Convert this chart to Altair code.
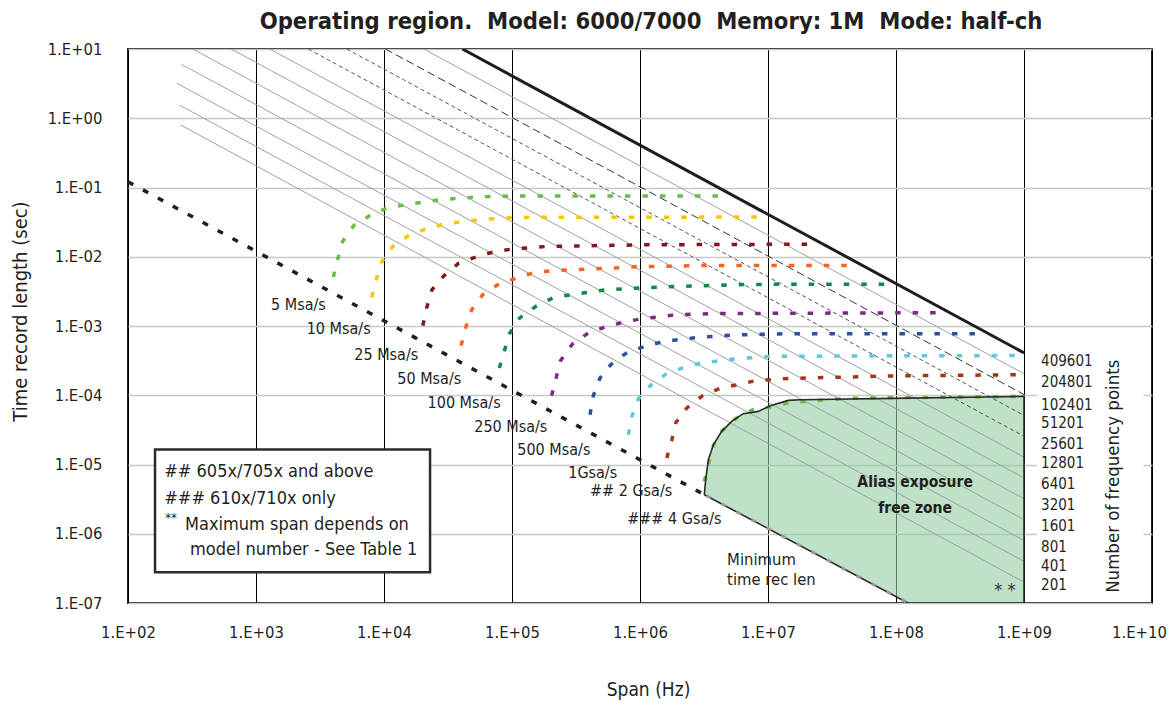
import altair as alt
import pandas as pd

FONT = "'DejaVu Sans Condensed', 'Liberation Sans Narrow', 'DejaVu Sans', sans-serif"
INK = "#231f20"

# ---------------- axis ticks ----------------
x_ticks = [1e2, 1e3, 1e4, 1e5, 1e6, 1e7, 1e8, 1e9, 1e10]
y_ticks = [1e-7, 1e-6, 1e-5, 1e-4, 1e-3, 1e-2, 1e-1, 1e0, 1e1]

# ---------------- constant frequency-point lines ----------------
fp_labels = ["201", "401", "801", "1601", "3201", "6401", "12801", "25601",
             "51201", "102401", "204801", "409601"]
fp_start_span = [258, 252, 240, 262, 320, 640, 1280, 2560, 5120, 10240, 20480, 40960]
fp_start_t = [0.80, 1.55, 3.2, 6.0, 10, 10, 10, 10, 10, 10, 10, 10]
fp_end_span = [1e9, 1e9, 1e9, 1e9, 1e9, 1e9, 1e9, 1e9, 1e9, 1e9, 1e9, 1e9]
fp_end_t = [2.0e-7, 4.0e-7, 8.0e-7, 1.6e-6, 3.2e-6, 6.4e-6, 1.28e-5, 2.56e-5,
            5.12e-5, 1.024e-4, 2.048e-4, 4.096e-4]
fp_style = ["thin", "thin", "thin", "thin", "thin", "thin", "thin", "short",
            "short", "long", "thin", "bold"]

# label positions of the frequency-point list (right side)
fp_label_t = [1.84e-7, 3.46e-7, 6.44e-7, 1.28e-6, 2.63e-6, 5.23e-6, 1.05e-5,
              2.00e-5, 3.97e-5, 7.31e-5, 1.55e-4, 3.15e-4]
fp_label_span = 1.36e9

# ---------------- sample-rate curves ----------------
rate_names = ["5 Msa/s", "10 Msa/s", "25 Msa/s", "50 Msa/s", "100 Msa/s",
              "250 Msa/s", "500 Msa/s", "1Gsa/s", "## 2 Gsa/s", "### 4 Gsa/s"]
rate_colors = ["#6dbb45", "#f7c600", "#84171a", "#f26522", "#0f8a43",
               "#7c2b83", "#2f4f9f", "#5fc9d9", "#a33520", "#6dbb45"]

r5m_span = [4.02e3, 4.35e3, 4.76e3, 5.83e3, 7.78e3, 1.06e4, 1.49e4, 2.77e4, 5.30e4, 9.88e4, 5.0e6]
r5m_t = [5.10e-3, 9.29e-3, 1.67e-2, 2.84e-2, 3.95e-2, 5.06e-2, 5.65e-2, 6.67e-2, 7.29e-2, 7.53e-2, 7.53e-2]

r10m_span = [8.02e3, 8.66e3, 9.48e3, 1.17e4, 1.55e4, 2.13e4, 2.94e4, 5.56e4, 1.05e5, 1.0e7]
r10m_t = [2.59e-3, 4.56e-3, 8.13e-3, 1.41e-2, 2.01e-2, 2.52e-2, 2.97e-2, 3.43e-2, 3.70e-2, 3.75e-2]

r25m_span = [2.01e4, 2.16e4, 2.37e4, 2.94e4, 3.85e4, 5.30e4, 7.23e4, 9.95e4, 1.89e5, 1.20e6, 2.5e7]
r25m_t = [1.01e-3, 1.86e-3, 3.34e-3, 5.32e-3, 8.13e-3, 1.00e-2, 1.18e-2, 1.29e-2, 1.41e-2, 1.49e-2, 1.52e-2]

r50m_span = [4.00e4, 4.35e4, 4.84e4, 5.90e4, 7.96e4, 1.09e5, 1.51e5, 2.04e5, 1.0e6, 3.70e6, 5.0e7]
r50m_t = [5.20e-4, 9.55e-4, 1.72e-3, 2.83e-3, 4.08e-3, 4.93e-3, 5.94e-3, 6.29e-3, 7.18e-3, 7.50e-3, 7.50e-3]

r100m_span = [7.96e4, 8.66e4, 9.53e4, 1.15e5, 1.56e5, 2.13e5, 2.93e5, 5.49e5, 1.06e6, 1.99e6, 7.23e6, 1.0e8]
r100m_t = [2.48e-4, 4.21e-4, 7.66e-4, 1.31e-3, 1.96e-3, 2.59e-3, 2.83e-3, 3.34e-3, 3.57e-3, 3.73e-3, 3.99e-3, 4.0e-3]

r250m_span = [2.04e5, 2.21e5, 2.40e5, 2.98e5, 3.94e5, 5.49e5, 7.50e5, 1.03e6, 1.94e6, 3.70e6, 2.5e8]
r250m_t = [9.86e-5, 1.77e-4, 3.18e-4, 5.55e-4, 7.92e-4, 9.86e-4, 1.14e-3, 1.27e-3, 1.46e-3, 1.51e-3, 1.56e-3]

r500m_span = [4.07e5, 4.32e5, 4.87e5, 5.90e5, 7.96e5, 1.09e6, 1.50e6, 2.80e6, 5.36e6, 1.40e7, 5.0e8]
r500m_t = [5.24e-5, 9.86e-5, 1.77e-4, 2.76e-4, 4.16e-4, 5.07e-4, 5.93e-4, 6.84e-4, 7.41e-4, 7.74e-4, 7.74e-4]

r1g_span = [8.11e5, 8.61e5, 9.70e5, 1.20e6, 1.60e6, 2.16e6, 2.98e6, 5.69e6, 1.07e7, 1.07e8, 1.0e9]
r1g_t = [2.69e-5, 4.85e-5, 8.83e-5, 1.37e-4, 2.03e-4, 2.48e-4, 2.92e-4, 3.37e-4, 3.64e-4, 3.72e-4, 3.74e-4]

r2g_span = [1.62e6, 1.77e6, 1.91e6, 2.32e6, 3.09e6, 4.27e6, 5.86e6, 7.91e6, 1.47e7, 1.07e8, 1.0e9]
r2g_t = [1.24e-5, 2.23e-5, 4.06e-5, 6.55e-5, 9.86e-5, 1.27e-4, 1.42e-4, 1.62e-4, 1.75e-4, 1.91e-4, 1.98e-4]

r4g_span = [3.18e6, 3.42e6, 3.74e6, 4.35e6, 5.20e6, 6.41e6, 7.67e6, 1.10e7, 1.49e7, 4.37e7, 1.0e9]
r4g_t = [5.70e-6, 9.93e-6, 1.87e-5, 3.01e-5, 4.19e-5, 5.42e-5, 6.18e-5, 6.90e-5, 7.88e-5, 9.05e-5, 9.62e-5]

rate_spans = [r5m_span, r10m_span, r25m_span, r50m_span, r100m_span,
              r250m_span, r500m_span, r1g_span, r2g_span, r4g_span]
rate_ts = [r5m_t, r10m_t, r25m_t, r50m_t, r100m_t,
           r250m_t, r500m_t, r1g_t, r2g_t, r4g_t]

rate_label_span = [1.31e3, 2.49e3, 5.86e3, 1.27e4, 2.19e4, 5.07e4, 1.10e5, 2.75e5, 4.07e5, 7.95e5]
rate_label_t = [1.98e-3, 9.05e-4, 3.85e-4, 1.73e-4, 7.73e-5, 3.48e-5, 1.60e-5, 7.54e-6, 4.09e-6, 1.65e-6]

# ---------------- minimum time record length ----------------
min_span = [100, 3.15e6]
min_t = [0.121, 3.7e-6]
min_zone_span = [3.3e6, 1.24e8]
min_zone_t = [3.55e-6, 1.0e-7]

# ---------------- alias exposure free zone ----------------
zone_span = [3.18e6, 3.26e6, 3.42e6, 3.74e6, 4.35e6, 5.20e6, 6.41e6, 8.40e6,
             1.04e7, 1.44e7, 1.78e7, 1.24e8, 1.0e9]
zone_top = [3.66e-6, 6.04e-6, 1.17e-5, 1.93e-5, 3.01e-5, 4.19e-5, 5.42e-5, 5.85e-5,
            7.06e-5, 8.43e-5, 8.63e-5, 9.10e-5, 9.62e-5]
zone_bottom = [3.66e-6, 3.58e-6, 3.42e-6, 3.12e-6, 2.69e-6, 2.25e-6, 1.83e-6, 1.40e-6,
               1.13e-6, 8.2e-7, 6.7e-7, 1.0e-7, 1.0e-7]

# ---------------- annotations ----------------
title_text = "Operating region.\u00a0 Model: 6000/7000\u00a0 Memory: 1M\u00a0 Mode: half-ch"
title_pos = {"span": 1.22e6, "t": 24.6}

legend_box = {"span": 162.6, "span2": 2.29e4, "t": 1.64e-5, "t2": 2.77e-7}
legend_lines = ["## 605x/705x and above", "### 610x/710x only",
                "Maximum span depends on", "model number - See Table 1"]
legend_span = [192, 192, 279, 305]
legend_t = [7.69e-6, 3.21e-6, 1.32e-6, 5.75e-7]

# ================= build tables =================
lab = ("'1.E' + (round(log(datum.value)/LN10) < 0 ? '-' : '+') + "
       "(abs(round(log(datum.value)/LN10)) < 10 ? '0' : '') + abs(round(log(datum.value)/LN10))")

xscale = alt.Scale(type="log", domain=[1e2, 1e10], nice=False)
yscale = alt.Scale(type="log", domain=[1e-7, 1e1], nice=False)
xaxis = alt.Axis(values=x_ticks, labelExpr=lab, labelFont=FONT, labelFontSize=16.5,
                 labelColor=INK, labelPadding=21, ticks=False, domain=False,
                 grid=True, gridColor="#000000", gridWidth=1, labelFlush=False,
                 labelOverlap=False, title="Span (Hz)", titleFont=FONT,
                 titleFontSize=19, titleFontWeight="normal", titleColor=INK,
                 titlePadding=40, titleX=520,
                 labelOffset={"condition": {"test": "datum.value > 5e9", "value": -13},
                              "value": 0})
yaxis = alt.Axis(values=y_ticks, labelExpr=lab, labelFont=FONT, labelFontSize=16.5,
                 labelColor=INK, labelPadding=26, ticks=False, domain=False,
                 grid=True, gridColor="#c8c8c8", gridWidth=1.5, labelFlush=False,
                 labelOverlap=False, title="Time record length (sec)", titleFont=FONT,
                 titleFontSize=20, titleFontWeight="normal", titleColor=INK,
                 titlePadding=17, titleY=262)


def X(f="span"):
    return alt.X(f, type="quantitative", scale=xscale, axis=xaxis)


def Y(f="t"):
    return alt.Y(f, type="quantitative", scale=yscale, axis=yaxis)


fp_rows = []
for lab_, s0, t0, s1, t1, st in zip(fp_labels, fp_start_span, fp_start_t,
                                    fp_end_span, fp_end_t, fp_style):
    fp_rows.append({"id": lab_, "span": s0, "t": t0, "idx": 0, "style": st})
    fp_rows.append({"id": lab_, "span": s1, "t": t1, "idx": 1, "style": st})
fp_df = pd.DataFrame(fp_rows)

rate_rows = []
for name, ss, tt in zip(rate_names, rate_spans, rate_ts):
    for i, (s, t) in enumerate(zip(ss, tt)):
        rate_rows.append({"rate": name, "span": s, "t": t, "idx": i})
rate_df = pd.DataFrame(rate_rows)

zone_df = pd.DataFrame({"span": zone_span, "t": zone_top, "t2": zone_bottom})
outline_df = pd.DataFrame({
    "span": zone_span + [1.0e9, 1.24e8, zone_span[0]],
    "t": zone_top + [1.0e-7, 1.0e-7, zone_top[0]],
})
outline_df["idx"] = range(len(outline_df))

min_df = pd.DataFrame({"span": min_span, "t": min_t})
min_zone_df = pd.DataFrame({"span": min_zone_span, "t": min_zone_t})

rate_lab_df = pd.DataFrame({"label": rate_names, "span": rate_label_span, "t": rate_label_t})
fp_lab_df = pd.DataFrame({"label": fp_labels, "t": fp_label_t})
fp_lab_df["span"] = fp_label_span
legend_df = pd.DataFrame({"label": legend_lines, "span": legend_span, "t": legend_t})
box_df = pd.DataFrame([legend_box])
white_df = pd.DataFrame([{"span": 1.26e9, "span2": 8.6e9, "t": 5.0e-4, "t2": 1.1e-7}])
title_df = pd.DataFrame([{"label": title_text, **title_pos}])

# ================= layers =================
zone_fill = alt.Chart(zone_df).mark_area(color="#93cda3", opacity=0.6).encode(
    x=X(), y=Y(), y2="t2:Q")

white_box = alt.Chart(white_df).mark_rect(color="white").encode(
    x=X(), x2="span2:Q", y=Y(), y2="t2:Q")

legend_rect = alt.Chart(box_df).mark_rect(fill="white", stroke="#2b2b2b", strokeWidth=2.5).encode(
    x=X(), x2="span2:Q", y=Y(), y2="t2:Q")


def fp_layer(style, **kw):
    return alt.Chart(fp_df).transform_filter(alt.datum.style == style).mark_line(clip=True, **kw).encode(
        x=X(), y=Y(), detail="id:N", order="idx:Q")


thin = fp_layer("thin", color="#a0a0a0", strokeWidth=1)
short = fp_layer("short", color="#555555", strokeWidth=1, strokeDash=[4, 3])
long_ = fp_layer("long", color="#333333", strokeWidth=1, strokeDash=[8, 4])
bold = fp_layer("bold", color="#1e1e1e", strokeWidth=3)

curves = alt.Chart(rate_df).mark_line(strokeWidth=3.5, strokeDash=[5.5, 12], clip=True).encode(
    x=X(), y=Y(), detail="rate:N", order="idx:Q",
    color=alt.Color("rate:N", scale=alt.Scale(domain=rate_names, range=rate_colors), legend=None))

min_line = alt.Chart(min_df).mark_line(color="#1e1e1e", strokeWidth=3.5, strokeDash=[6, 11]).encode(
    x=X(), y=Y())

outline = alt.Chart(outline_df).mark_line(color="#2a2a2a", strokeWidth=1.6, clip=True).encode(
    x=X(), y=Y(), order="idx:Q")

min_zone = alt.Chart(min_zone_df).mark_line(color="#9a9a9a", strokeWidth=3, strokeDash=[5, 12]).encode(
    x=X(), y=Y())

rate_text = alt.Chart(rate_lab_df).mark_text(align="left", baseline="middle", font=FONT,
                                             fontSize=16, color=INK).encode(
    x=X(), y=Y(), text="label:N")

fp_text = alt.Chart(fp_lab_df).mark_text(align="left", baseline="middle", font=FONT,
                                         fontSize=15, color=INK).encode(
    x=X(), y=Y(), text="label:N")

legend_text = alt.Chart(legend_df).mark_text(align="left", baseline="middle", font=FONT,
                                             fontSize=18, color=INK).encode(
    x=X(), y=Y(), text="label:N")

star_df = pd.DataFrame({"label": ["**"], "span": [217], "t": [1.71e-6]})
star_text = alt.Chart(star_df).mark_text(align="center", baseline="middle", font=FONT,
                                         fontSize=13, color=INK).encode(
    x=X(), y=Y(), text="label:N")

misc_df = pd.DataFrame({
    "label": ["Minimum", "time rec len"],
    "span": [4.79e6, 4.79e6],
    "t": [4.22e-7, 2.17e-7],
})
misc_text = alt.Chart(misc_df).mark_text(align="left", baseline="middle", font=FONT,
                                         fontSize=16.5, color=INK).encode(
    x=X(), y=Y(), text="label:N")

zone_lab_df = pd.DataFrame({
    "label": ["Alias exposure", "free zone"],
    "span": [1.41e8, 1.41e8],
    "t": [5.52e-6, 2.36e-6],
})
zone_text = alt.Chart(zone_lab_df).mark_text(align="center", baseline="middle", font=FONT,
                                             fontSize=15.5, fontWeight="bold", color=INK).encode(
    x=X(), y=Y(), text="label:N")

zstar_df = pd.DataFrame({"label": ["* *"], "span": [7.11e8], "t": [1.47e-7]})
zstar_text = alt.Chart(zstar_df).mark_text(align="center", baseline="middle", font=FONT,
                                           fontSize=18, color="#333333").encode(
    x=X(), y=Y(), text="label:N")

nfp_df = pd.DataFrame({"label": ["Number of frequency points"], "span": [5.0e9], "t": [6.78e-6]})
nfp_text = alt.Chart(nfp_df).mark_text(align="center", baseline="middle", font=FONT,
                                       fontSize=18.5, angle=270, color=INK).encode(
    x=X(), y=Y(), text="label:N")

title_mark = alt.Chart(title_df).mark_text(align="center", baseline="middle", font=FONT,
                                           fontSize=23.6, fontWeight="bold", color=INK).encode(
    x=X(), y=Y(), text="label:N")

chart = alt.layer(
    zone_fill, white_box, legend_rect, thin, short, long_, bold, curves, min_line,
    outline, min_zone, rate_text, fp_text, legend_text, star_text, misc_text,
    zone_text, zstar_text, nfp_text, title_mark,
).properties(
    width=1024, height=554,
    autosize=alt.AutoSizeParams(type="none"),
    padding={"left": 120, "top": 41, "right": 15, "bottom": 100},
).configure_view(stroke="#222222", strokeWidth=2)

chart.save("out.html", embed_options={"renderer": "svg", "actions": False})
